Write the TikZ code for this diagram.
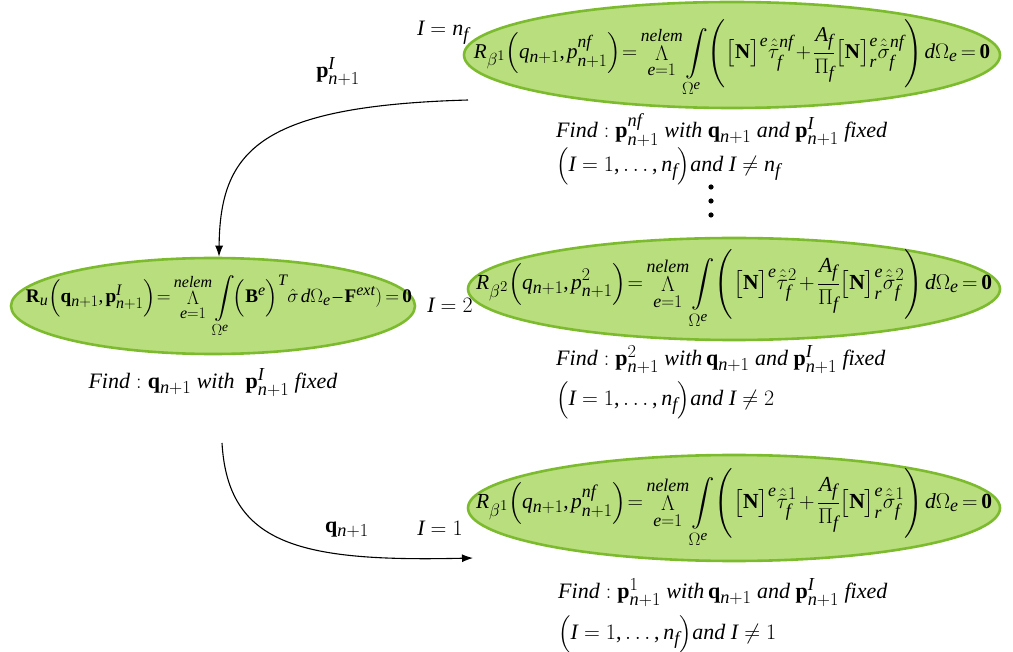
\documentclass[tikz,border=0pt]{standalone}
\usepackage{fix-cm}
\usepackage{amsmath}
\usepackage{fontspec}
\setmainfont{Liberation Serif}
\usepackage[italic]{mathastext}
\usepackage{graphicx}
\usetikzlibrary{shapes.geometric,arrows.meta}
\definecolor{ellfill}{HTML}{B9DE7E}
\definecolor{elldraw}{HTML}{7DBB2E}
\newcommand{\bigLam}{\mathop{\Lambda}\limits}
\newcommand{\itw}[1]{\textit{#1}}
\newcommand{\tight}{\medmuskip=2mu\thickmuskip=3mu\thinmuskip=2mu}
\newcommand{\tall}{\rule[-32pt]{0pt}{70pt}}
\newcommand{\residual}[3]{R_{\beta^{#1}}\Bigl(q_{n+1},p^{#2}_{n+1}\Bigr)\!=\bigLam_{e=1}^{nelem}\int\limits_{\Omega^e}\!\left(\tall\bigl[\mathbf{N}\bigr]^e\hat{\tilde{\tau}}^{#3}_f+\frac{A_f}{\Pi_f}\bigl[\mathbf{N}\bigr]^e_r\hat{\tilde{\sigma}}^{#3}_f\right)d\Omega_e=\mathbf{0}}
\begin{document}
\begin{tikzpicture}[x=1pt,y=-1pt,
  ell/.style={ellipse, draw=elldraw, fill=ellfill, line width=2.6pt, inner sep=0pt},
  eqn/.style={inner sep=0pt, font=\fontsize{23}{27}\selectfont},
  lbl/.style={inner sep=0pt, font=\fontsize{22}{26}\selectfont},
  txt/.style={inner sep=0pt, anchor=west, font=\fontsize{22}{26}\selectfont},
  conn/.style={line width=1.1pt, -{Latex[length=11pt,width=8pt]}}]
\useasboundingbox (0,0) rectangle (1013,652);

% ellipses
\node[ell, minimum width=536pt, minimum height=106pt] (eT) at (732,55) {};
\node[ell, minimum width=532pt, minimum height=102pt] (eM) at (734,289) {};
\node[ell, minimum width=532pt, minimum height=106pt] (eB) at (734,508) {};
\node[ell, minimum width=404pt, minimum height=96pt] (eL) at (213,306) {};

% equations
\node[eqn] (qT) at ([yshift=-3pt]eT.center) {\resizebox{516pt}{!}{$\tight\displaystyle\residual{1}{nf}{nf}$}};
\node[eqn] (qM) at (eM.center) {\resizebox{516pt}{!}{$\tight\displaystyle\residual{2}{2}{2}$}};
\node[eqn] (qB) at (eB.center) {\resizebox{516pt}{!}{$\tight\displaystyle\residual{1}{nf}{1}$}};
\node[eqn] (qL) at ([xshift=6pt]eL.center) {\resizebox{386pt}{!}{$\tight\displaystyle
 \mathbf{R}_u\Bigl(\mathbf{q}_{n+1},\mathbf{p}^{I}_{n+1}\Bigr)\!=\bigLam_{e=1}^{nelem}\int\limits_{\Omega^e}\!\Bigl(\mathbf{B}^e\Bigr)^{T}\hat{\sigma}\,d\Omega_e-\mathbf{F}^{ext})=\mathbf{0}$}};

% labels
\node[lbl] (lnf) at (443,33) {$I=n_f$};
\node[lbl] (lpI) at (338,72) {$\mathbf{p}^{I}_{n+1}$};
\node[lbl] (l2) at (450,305) {$I=2$};
\node[lbl] (lq) at (347,530) {$\mathbf{q}_{n+1}$};
\node[lbl] (l1) at (440,528) {$I=1$};

% find texts
\node[txt] (fT1) at (556,130) {$\itw{Find}:\mathbf{p}^{nf}_{n+1}\ \itw{with}\ \mathbf{q}_{n+1}\ \itw{and}\ \mathbf{p}^{I}_{n+1}\ \itw{fixed}$};
\node[txt] (fT2) at (556,166) {$\Bigl(I=1,\ldots,n_f\Bigr)\itw{and}\ I\neq n_f$};
\node[lbl] (fL) at (213,383) {$\itw{Find}:\mathbf{q}_{n+1}\ \itw{with}\ \ \mathbf{p}^{I}_{n+1}\ \itw{fixed}$};
\node[txt] (fM1) at (556,360) {$\itw{Find}:\mathbf{p}^{2}_{n+1}\ \itw{with}\,\mathbf{q}_{n+1}\ \itw{and}\ \mathbf{p}^{I}_{n+1}\ \itw{fixed}$};
\node[txt] (fM2) at (556,400) {$\Bigl(I=1,\ldots,n_f\Bigr)\itw{and}\ I\neq 2$};
\node[txt] (fB1) at (558,593) {$\itw{Find}:\mathbf{p}^{1}_{n+1}\ \itw{with}\,\mathbf{q}_{n+1}\ \itw{and}\ \mathbf{p}^{I}_{n+1}\ \itw{fixed}$};
\node[txt] (fB2) at (558,634) {$\Bigl(I=1,\ldots,n_f\Bigr)\itw{and}\ I\neq 1$};

% dots
\foreach \yy/\nm in {187/d1,201/d2,215/d3}
  \fill (711,\yy) circle (2.6pt);

% connectors
\coordinate (aS) at (468,100);
\coordinate (bS) at (222,443);
\coordinate (bE) at (473,558);
\draw[conn] (aS) .. controls (260,106) and (220,150) .. ([xshift=6pt]eL.north);
\draw[conn] (bS) .. controls (228,545) and (300,562) .. (bE);
\end{tikzpicture}
\end{document}
